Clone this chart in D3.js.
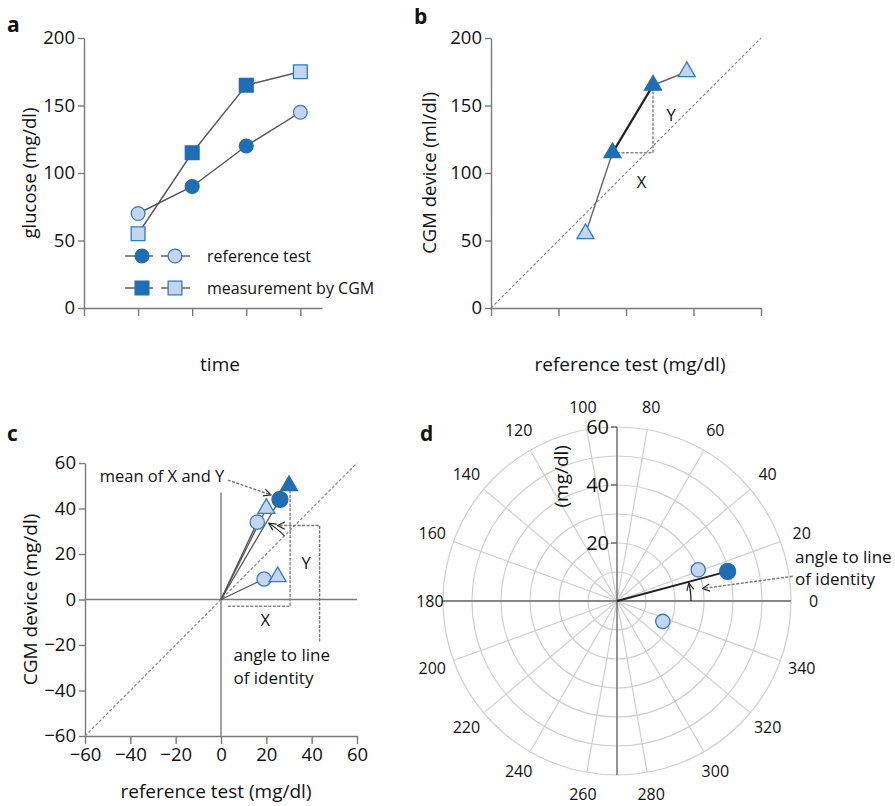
<!DOCTYPE html>
<html><head><meta charset="utf-8">
<script src="https://cdn.jsdelivr.net/npm/d3@7"></script>
<style>
body{margin:0;background:#fff;}
svg{font-family:"Open Sans","Noto Sans",sans-serif;}
</style></head>
<body>
<svg id="chart" width="895" height="806"></svg>
<script>
// ---------- DATA ----------
const timePoints = [1, 2, 3, 4];
const referenceTest = [70, 90, 120, 145];
const cgmMeasurement = [55, 115, 165, 175];
const pointHighlighted = [false, true, true, false];
const glucoseTicks = [0, 50, 100, 150, 200];
const timeTicks = [0, 1, 2, 3, 4];

// panel c: difference vectors (reference change, CGM change)
const diffTriangles = [{x: 30, y: 50, dark: true}, {x: 20, y: 40, dark: false}, {x: 25, y: 10, dark: false}];
const diffCircles = [{x: 26, y: 44, dark: true}, {x: 16, y: 34, dark: false}, {x: 19, y: 9, dark: false}];
const diffTicks = [-60, -40, -20, 0, 20, 40, 60];

// panel d: polar points (angle deg, radius mg/dl)
const polarPoints = [{a: 15, r: 39.5, dark: true}, {a: 21, r: 30, dark: false}, {a: 336, r: 17.3, dark: false}];
const polarAngleTicks = d3.range(0, 360, 20);
const polarRadiusRings = [10, 20, 30, 40, 50, 60];
const polarRadiusTicks = [20, 40, 60];

const DARK = "#1f6db3", LIGHT = "#c6d5ee", LSTROKE = "#2f7bc4", AX = "#7a7a7a";
const svg = d3.select("#chart");

function styleAxis(g, fs) {
  g.selectAll(".domain").attr("stroke", AX).attr("stroke-width", 1.4);
  g.selectAll(".tick line").attr("stroke", AX).attr("stroke-width", 1.4);
  g.selectAll(".tick text").attr("fill", "#111").style("font-size", fs + "px").style("font-family", '"Open Sans","Noto Sans",sans-serif');
}
function marker(sel, kind, dark, size) {
  const sym = kind === "circle" ? d3.symbolCircle : kind === "square" ? d3.symbolSquare : d3.symbolTriangle;
  sel.attr("d", d3.symbol().type(sym).size(size))
    .attr("fill", dark ? DARK : LIGHT)
    .attr("stroke", dark ? DARK : LSTROKE)
    .attr("stroke-width", 1.3);
}
function panelLabel(t, x, y) {
  svg.append("text").attr("x", x).attr("y", y).text(t).style("font-weight", "bold").style("font-size", "21px").attr("fill", "#111");
}
const defs = svg.append("defs");
defs.append("marker").attr("id", "arr").attr("viewBox", "0 0 10 10").attr("refX", 9).attr("refY", 5)
  .attr("markerWidth", 9).attr("markerHeight", 9).attr("orient", "auto-start-reverse").attr("markerUnits", "userSpaceOnUse")
  .append("path").attr("d", "M1,1 L9,5 L1,9").attr("fill", "none").attr("stroke", "#222").attr("stroke-width", 1.3);

// ---------- PANEL A ----------
{
  const x = d3.scaleLinear().domain([0, 4.4]).range([84, 322]);
  const y = d3.scaleLinear().domain([0, 200]).range([308, 38]);
  const gy = svg.append("g").attr("transform", `translate(${x(0)},0)`).call(d3.axisLeft(y).tickValues(glucoseTicks).tickSize(6).tickPadding(3).tickSizeOuter(0));
  styleAxis(gy, 18.5);
  const gx = svg.append("g").attr("transform", `translate(0,${y(0)})`).call(d3.axisBottom(x).tickValues(timeTicks).tickSize(8).tickFormat("").tickSizeOuter(0));
  styleAxis(gx, 18.5);
  const line = d3.line().x((d, i) => x(timePoints[i])).y(d => y(d));
  svg.append("path").attr("d", line(referenceTest)).attr("fill", "none").attr("stroke", "#555").attr("stroke-width", 1.4);
  svg.append("path").attr("d", line(cgmMeasurement)).attr("fill", "none").attr("stroke", "#555").attr("stroke-width", 1.4);
  svg.selectAll(null).data(cgmMeasurement).enter().append("path")
    .attr("transform", (d, i) => `translate(${x(timePoints[i])},${y(d)})`)
    .each(function (d, i) { marker(d3.select(this), "square", pointHighlighted[i], 190); });
  svg.selectAll(null).data(referenceTest).enter().append("path")
    .attr("transform", (d, i) => `translate(${x(timePoints[i])},${y(d)})`)
    .each(function (d, i) { marker(d3.select(this), "circle", pointHighlighted[i], 150); });
  // legend
  const leg = [{kind: "circle", label: "reference test", yy: 256, size: 150}, {kind: "square", label: "measurement by CGM", yy: 288, size: 190}];
  leg.forEach(l => {
    svg.append("line").attr("x1", 125).attr("x2", 153).attr("y1", l.yy).attr("y2", l.yy).attr("stroke", "#555").attr("stroke-width", 1.4);
    svg.append("line").attr("x1", 161).attr("x2", 190).attr("y1", l.yy).attr("y2", l.yy).attr("stroke", "#555").attr("stroke-width", 1.4);
    marker(svg.append("path").attr("transform", `translate(142,${l.yy})`), l.kind, true, l.size);
    marker(svg.append("path").attr("transform", `translate(175,${l.yy})`), l.kind, false, l.size);
    svg.append("text").attr("x", 207).attr("y", l.yy).attr("dy", "0.35em").text(l.label).style("font-size", "16px").attr("fill", "#111");
  });
  svg.append("text").attr("transform", `translate(30,${y(100)}) rotate(-90)`).attr("text-anchor", "middle").attr("dy", "0.35em")
    .text("glucose (mg/dl)").style("font-size", "18.5px").attr("fill", "#111");
  svg.append("text").attr("x", 220).attr("y", 371).attr("text-anchor", "middle").text("time").style("font-size", "19px").attr("fill", "#111");
  panelLabel("a", 7, 32);
}

// ---------- PANEL B ----------
{
  const x = d3.scaleLinear().domain([0, 200]).range([491, 761]);
  const y = d3.scaleLinear().domain([0, 200]).range([308, 38]);
  const gy = svg.append("g").attr("transform", `translate(${x(0)},0)`).call(d3.axisLeft(y).tickValues(glucoseTicks).tickSize(6).tickPadding(3).tickSizeOuter(0));
  styleAxis(gy, 18.5);
  const gx = svg.append("g").attr("transform", `translate(0,${y(0)})`).call(d3.axisBottom(x).tickValues(glucoseTicks).tickSize(8).tickFormat("").tickSizeOuter(0));
  styleAxis(gx, 18.5);
  svg.append("line").attr("x1", x(0)).attr("y1", y(0)).attr("x2", x(200)).attr("y2", y(200))
    .attr("stroke", "#888").attr("stroke-width", 1.2).attr("stroke-dasharray", "3,2");
  const pts = referenceTest.map((r, i) => ({x: r, y: cgmMeasurement[i], dark: pointHighlighted[i]}));
  // dashed X/Y legs
  svg.append("path").attr("d", d3.line()([[x(pts[1].x), y(pts[1].y)], [x(pts[2].x), y(pts[1].y)], [x(pts[2].x), y(pts[2].y)]]))
    .attr("fill", "none").attr("stroke", "#888").attr("stroke-width", 1.5).attr("stroke-dasharray", "3,1.5");
  for (let i = 0; i < pts.length - 1; i++) {
    const strong = pts[i].dark && pts[i + 1].dark;
    svg.append("line").attr("x1", x(pts[i].x)).attr("y1", y(pts[i].y)).attr("x2", x(pts[i + 1].x)).attr("y2", y(pts[i + 1].y))
      .attr("stroke", strong ? "#222" : "#666").attr("stroke-width", strong ? 2.4 : 1.4);
  }
  svg.selectAll(null).data(pts).enter().append("path")
    .attr("transform", d => `translate(${x(d.x)},${y(d.y)})`)
    .each(function (d) { marker(d3.select(this), "triangle", d.dark, 125); });
  svg.append("text").attr("x", x(130)).attr("y", y(143)).attr("dy", "0.35em").text("Y").style("font-size", "16.5px").attr("fill", "#111");
  svg.append("text").attr("x", x(108)).attr("y", y(93)).attr("dy", "0.35em").text("X").style("font-size", "16.5px").attr("fill", "#111");
  svg.append("text").attr("transform", `translate(430,${y(100)}) rotate(-90)`).attr("text-anchor", "middle").attr("dy", "0.35em")
    .text("CGM device (ml/dl)").style("font-size", "18.5px").attr("fill", "#111");
  svg.append("text").attr("x", 630).attr("y", 371).attr("text-anchor", "middle").text("reference test (mg/dl)").style("font-size", "19px").attr("fill", "#111");
  panelLabel("b", 414, 24);
}

// ---------- PANEL C ----------
{
  const x = d3.scaleLinear().domain([-60, 60]).range([85, 357]);
  const y = d3.scaleLinear().domain([-60, 60]).range([736, 463]);
  const gy = svg.append("g").attr("transform", `translate(${x(-60)},0)`).call(d3.axisLeft(y).tickValues(diffTicks).tickSize(6).tickPadding(3).tickSizeOuter(0));
  styleAxis(gy, 18.5);
  const gx = svg.append("g").attr("transform", `translate(0,${y(-60)})`).call(d3.axisBottom(x).tickValues(diffTicks).tickSize(8).tickPadding(4).tickSizeOuter(0));
  styleAxis(gx, 18.5);
  svg.append("line").attr("x1", x(-60)).attr("x2", x(60)).attr("y1", y(0)).attr("y2", y(0)).attr("stroke", AX).attr("stroke-width", 1.4);
  svg.append("line").attr("x1", x(0)).attr("x2", x(0)).attr("y1", y(-60)).attr("y2", y(47)).attr("stroke", AX).attr("stroke-width", 1.4);
  svg.append("line").attr("x1", x(-60)).attr("y1", y(-60)).attr("x2", x(60)).attr("y2", y(60))
    .attr("stroke", "#888").attr("stroke-width", 1.2).attr("stroke-dasharray", "3,2");
  // dashed X / Y bracket
  svg.append("path").attr("d", d3.line()([[x(3), y(-3)], [x(30.5), y(-3)], [x(30.5), y(48)]]))
    .attr("fill", "none").attr("stroke", "#888").attr("stroke-width", 1.5).attr("stroke-dasharray", "3,1.5");
  // vectors from origin
  diffCircles.forEach(d => {
    svg.append("line").attr("x1", x(0)).attr("y1", y(0)).attr("x2", x(d.x)).attr("y2", y(d.y)).attr("stroke", "#555").attr("stroke-width", 1.3);
  });
  svg.append("line").attr("x1", x(0)).attr("y1", y(0)).attr("x2", x(diffTriangles[1].x)).attr("y2", y(diffTriangles[1].y)).attr("stroke", "#555").attr("stroke-width", 1.3);
  // angle arc arrow
  const arcR = Math.hypot(x(28) - x(0), y(28) - y(0));
  const arcPts = d3.range(45, 58.1, 1).map(a => [x(0) + arcR * Math.cos(a * Math.PI / 180), y(0) - arcR * Math.sin(a * Math.PI / 180)]);
  svg.append("path").attr("d", d3.line()(arcPts)).attr("fill", "none").attr("stroke", "#333").attr("stroke-width", 1.2).attr("marker-end", "url(#arr)");
  // angle to identity dashed arrow
  svg.append("path").attr("d", d3.line()([[x(43.5), y(-18.5)], [x(43.5), y(32.5)], [x(25), y(32.5)]]))
    .attr("fill", "none").attr("stroke", "#777").attr("stroke-width", 1.4).attr("stroke-dasharray", "3,1.5").attr("marker-end", "url(#arr)");
  // mean arrow
  svg.append("path").attr("d", d3.line()([[x(3), y(52.5)], [x(22), y(46)]]))
    .attr("fill", "none").attr("stroke", "#777").attr("stroke-width", 1.4).attr("stroke-dasharray", "3,1.5").attr("marker-end", "url(#arr)");
  svg.selectAll(null).data(diffCircles).enter().append("path")
    .attr("transform", d => `translate(${x(d.x)},${y(d.y)})`)
    .each(function (d) { marker(d3.select(this), "circle", d.dark, d.dark ? 200 : 160); });
  svg.selectAll(null).data(diffTriangles).enter().append("path")
    .attr("transform", d => `translate(${x(d.x)},${y(d.y)})`)
    .each(function (d) { marker(d3.select(this), "triangle", d.dark, 125); });
  const t = (s, xx, yy, anchor, fs) => svg.append("text").attr("x", x(xx)).attr("y", y(yy)).attr("dy", "0.35em").attr("text-anchor", anchor || "start").text(s).style("font-size", (fs || 16.5) + "px").attr("fill", "#111");
  t("mean of X and Y", -53.5, 54);
  t("X", 19.5, -9, "middle");
  t("Y", 37.5, 16, "middle");
  t("angle to line", 5.5, -24.5, "start", 17);
  t("of identity", 5.5, -34.5, "start", 17);
  svg.append("text").attr("transform", `translate(30,${y(0)}) rotate(-90)`).attr("text-anchor", "middle").attr("dy", "0.35em")
    .text("CGM device (mg/dl)").style("font-size", "19px").attr("fill", "#111");
  svg.append("text").attr("x", 216).attr("y", 798).attr("text-anchor", "middle").text("reference test (mg/dl)").style("font-size", "19px").attr("fill", "#111");
  panelLabel("c", 7, 441);
}

// ---------- PANEL D ----------
{
  const cx = 617, cy = 601;
  const r = d3.scaleLinear().domain([0, 60]).range([0, 174]);
  const pos = (a, rv) => [cx + r(rv) * Math.cos(a * Math.PI / 180), cy - r(rv) * Math.sin(a * Math.PI / 180)];
  const g = svg.append("g");
  polarRadiusRings.forEach(v => g.append("circle").attr("cx", cx).attr("cy", cy).attr("r", r(v)).attr("fill", "none").attr("stroke", "#d0d0d0").attr("stroke-width", 1.2));
  polarAngleTicks.forEach(a => {
    const p = pos(a, 60);
    g.append("line").attr("x1", cx).attr("y1", cy).attr("x2", p[0]).attr("y2", p[1]).attr("stroke", "#d0d0d0").attr("stroke-width", 1.2);
  });
  // main axes
  [[0, 180], [90, 270]].forEach(([a1, a2]) => {
    const p1 = pos(a1, 60), p2 = pos(a2, 60);
    g.append("line").attr("x1", p1[0]).attr("y1", p1[1]).attr("x2", p2[0]).attr("y2", p2[1]).attr("stroke", "#666").attr("stroke-width", 1.4);
  });
  polarAngleTicks.forEach(a => {
    const rr = a === 180 ? 64.5 : 67.8;
    const p = [cx + (r(60) + (rr - 60) * 2.9) * Math.cos(a * Math.PI / 180), cy - (r(60) + (rr - 60) * 2.9) * Math.sin(a * Math.PI / 180)];
    g.append("text").attr("x", p[0]).attr("y", p[1]).attr("dy", "0.35em").attr("text-anchor", "middle").text(a).style("font-size", "16px").attr("fill", "#111");
  });
  polarRadiusTicks.forEach(v => {
    g.append("line").attr("x1", cx - 6).attr("x2", cx).attr("y1", cy - r(v)).attr("y2", cy - r(v)).attr("stroke", "#666").attr("stroke-width", 1.4);
    g.append("text").attr("x", cx - 8).attr("y", cy - r(v)).attr("dy", "0.35em").attr("text-anchor", "end").text(v).style("font-size", "20px").attr("fill", "#111");
  });
  g.append("text").attr("transform", `translate(561,${cy - r(43)}) rotate(-90)`).attr("text-anchor", "middle").attr("dy", "0.35em")
    .text("(mg/dl)").style("font-size", "19px").attr("fill", "#111");
  // vector to dark point
  const dk = polarPoints.find(p => p.dark);
  const pd = pos(dk.a, dk.r);
  g.append("line").attr("x1", cx).attr("y1", cy).attr("x2", pd[0]).attr("y2", pd[1]).attr("stroke", "#222").attr("stroke-width", 2);
  // arc arrow
  const arcP = d3.range(0, dk.a - 0.5, 1).map(a => pos(a, 25.5));
  g.append("path").attr("d", d3.line()(arcP)).attr("fill", "none").attr("stroke", "#222").attr("stroke-width", 1.3).attr("marker-end", "url(#arr)");
  // dashed annotation arrow
  g.append("path").attr("d", d3.line()([pos(8, 61.2), pos(8.3, 29.8)])).attr("fill", "none").attr("stroke", "#777").attr("stroke-width", 1.4)
    .attr("stroke-dasharray", "3,1.5").attr("marker-end", "url(#arr)");
  g.selectAll(null).data(polarPoints).enter().append("path")
    .attr("transform", d => `translate(${pos(d.a, d.r)[0]},${pos(d.a, d.r)[1]})`)
    .each(function (d) { marker(d3.select(this), "circle", d.dark, d.dark ? 200 : 160); });
  g.append("text").attr("x", 795).attr("y", 557).attr("dy", "0.35em").text("angle to line").style("font-size", "17px").attr("fill", "#111");
  g.append("text").attr("x", 795).attr("y", 579).attr("dy", "0.35em").text("of identity").style("font-size", "17px").attr("fill", "#111");
  panelLabel("d", 420, 441);
}
</script>
</body></html>
